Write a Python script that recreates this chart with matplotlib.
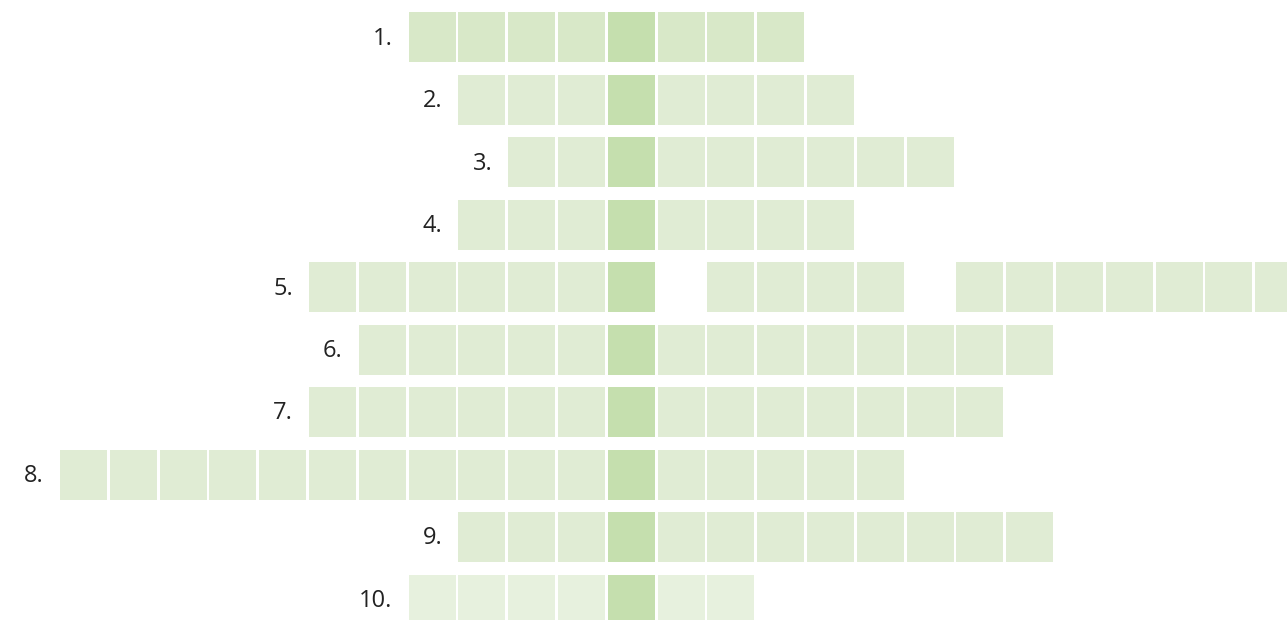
"""Crossword-style answer grid with one highlighted key column."""

import matplotlib
matplotlib.use("Agg")
import matplotlib.pyplot as plt
from matplotlib.patches import Rectangle

# one entry per clue row
CLUES = ["1.", "2.", "3.", "4.", "5.", "6.", "7.", "8.", "9.", "10."]
ANSWER_LENGTHS = [8, 8, 9, 8, 20, 14, 14, 17, 12, 7]
KEY_INDEX = [4, 3, 2, 3, 6, 5, 6, 11, 3, 4]   # letter that falls in the key column
BLANKS = [[], [], [], [], [7, 12], [], [], [], [], []]  # spaces inside answers

KEY_COL = 11
CELL_W = 0.944
CELL_H = 0.8

ROW1_COLOR = "#d8e8c8"
CELL_COLOR = "#e0ecd4"
LAST_COLOR = "#e7f1de"
KEY_COLOR = "#c5dfae"

fig = plt.figure(figsize=(12.87, 6.2), dpi=100)
ax = fig.add_axes([0, 0, 1, 1])
ax.set_xlim(-1.205, 24.64)
ax.set_ylim(9.728, -0.2)
ax.axis("off")

for r, (label, n, key, blanks) in enumerate(zip(CLUES, ANSWER_LENGTHS, KEY_INDEX, BLANKS)):
    start = KEY_COL - key
    if r == 0:
        base = ROW1_COLOR
    elif r == len(CLUES) - 1:
        base = LAST_COLOR
    else:
        base = CELL_COLOR
    for i in range(n):
        if i in blanks:
            continue
        color = KEY_COLOR if i == key else base
        ax.add_patch(Rectangle((start + i, r), CELL_W, CELL_H,
                               facecolor=color, edgecolor="none"))
    ax.text(start - 0.32, r + CELL_H / 2 + 0.02, label, ha="right", va="center",
            fontsize=17, family="Open Sans", color="#222222")

fig.savefig("out.png", dpi=100)
